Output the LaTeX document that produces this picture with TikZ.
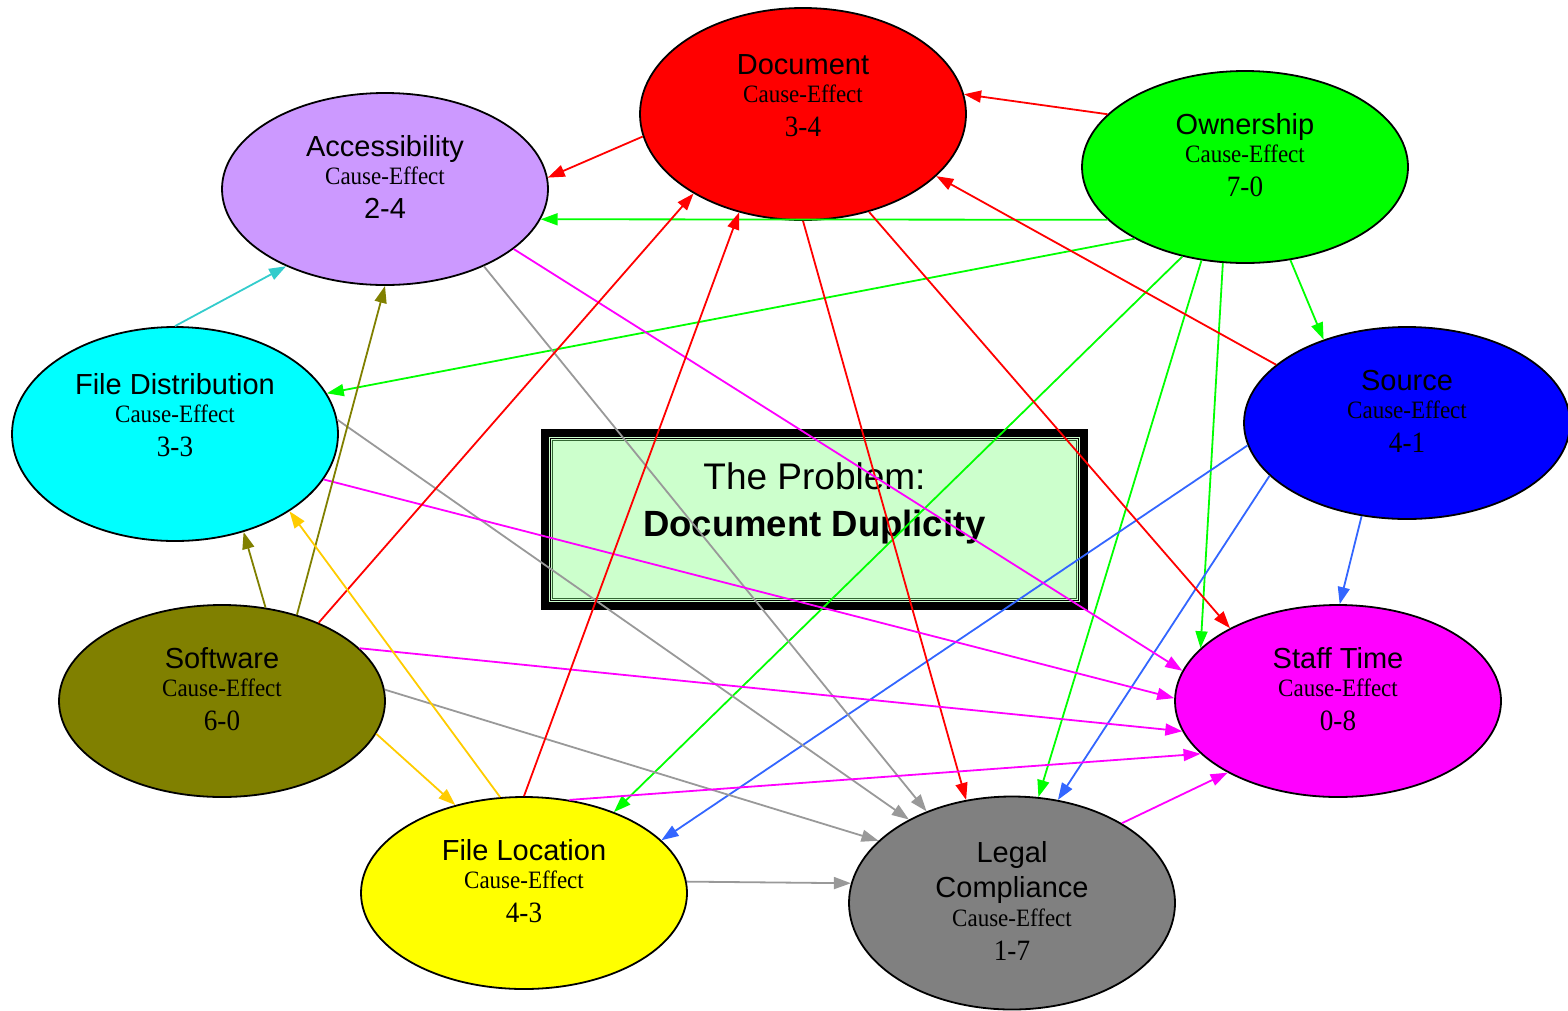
\documentclass[tikz,border=0pt]{standalone}
\usepackage{fontspec}
\setmainfont{Liberation Serif}
\setsansfont{Liberation Sans}
\usepackage{graphicx}
\usetikzlibrary{shapes.geometric,arrows.meta}
\definecolor{docred}{HTML}{FF0000}
\definecolor{accpur}{HTML}{CC99FF}
\definecolor{owngrn}{HTML}{00FF00}
\definecolor{srcblu}{HTML}{0000FF}
\definecolor{fdicya}{HTML}{00FFFF}
\definecolor{stfmag}{HTML}{FF00FF}
\definecolor{swoli}{HTML}{808000}
\definecolor{flocyel}{HTML}{FFFF00}
\definecolor{leggry}{HTML}{808080}
\definecolor{boxgrn}{HTML}{CCFFCC}
\definecolor{boxdk}{HTML}{336633}
\definecolor{eblu}{HTML}{3366FF}
\definecolor{egry}{HTML}{999999}
\definecolor{ecya}{HTML}{33CCCC}
\definecolor{egld}{HTML}{FFCC00}
\newcommand{\ttl}[1]{{\sffamily\fontsize{29}{32}\selectfont #1}}
\newcommand{\cef}{{\rmfamily\fontsize{25}{30}\selectfont\scalebox{0.92}[1]{Cause-Effect}}}
\newcommand{\cnum}[1]{{\rmfamily\fontsize{29.5}{32}\selectfont\scalebox{0.92}[1]{#1}}}
\newcommand{\dpt}[1]{\rule[-#1]{0pt}{#1}}
\begin{document}
\begin{tikzpicture}[x=1pt,y=-1pt,
  ell/.style={ellipse, draw=black, line width=1.8pt, minimum width=326pt,
    minimum height=192pt, inner sep=0pt, align=center,
    font=\fontsize{29}{32}\selectfont},
  e/.style={line width=1.8pt, -{Triangle[length=17pt,width=12pt]}},
  probbox/.style={draw=black, line width=8pt, fill=boxgrn, minimum width=539pt,
    minimum height=173pt, inner sep=0pt, align=center,
    font=\fontsize{37}{44}\selectfont}]
\useasboundingbox (0,0) rectangle (1568,1010);
% central box
\node[probbox] (prob) at (814.5,519.5)
  {\sffamily The Problem:\\[3pt]{\sffamily\bfseries\fontsize{36.5}{40}\selectfont Document Duplicity}\dpt{39pt}};
\draw[line width=1.5pt] ([shift={(9.5pt,-9.5pt)}]prob.north west) rectangle ([shift={(-9.5pt,9.5pt)}]prob.south east);
\draw[line width=1.1pt, boxdk] ([shift={(11.5pt,-11.5pt)}]prob.north west) rectangle ([shift={(-11.5pt,11.5pt)}]prob.south east);
% nodes
\node[ell, fill=docred, minimum height=212pt] (doc) at (803,114)
  {\ttl{Document}\\[-4pt]\cef\\[2pt]\cnum{3-4}\dpt{37.5pt}};
\node[ell, fill=accpur] (acc) at (385,189)
  {\ttl{Accessibility}\\[-4pt]\cef\\[2pt]\ttl{2-4}\dpt{23.5pt}};
\node[ell, fill=owngrn] (own) at (1245,167)
  {\ttl{Ownership}\\[-4pt]\cef\\[2pt]\cnum{7-0}\dpt{23.5pt}};
\node[ell, fill=srcblu] (src) at (1407,423)
  {\ttl{Source}\\[-4pt]\cef\\[2pt]\cnum{4-1}\dpt{23.5pt}};
\node[ell, fill=fdicya, minimum height=214pt] (fdi) at (175,434)
  {\ttl{File Distribution}\\[-4pt]\cef\\[2pt]\cnum{3-3}\dpt{37.5pt}};
\node[ell, fill=stfmag] (stf) at (1338,701)
  {\ttl{Staff Time}\\[-4pt]\cef\\[2pt]\cnum{0-8}\dpt{23.5pt}};
\node[ell, fill=swoli] (sw) at (222,701)
  {\ttl{Software}\\[-4pt]\cef\\[2pt]\cnum{6-0}\dpt{23.5pt}};
\node[ell, fill=flocyel] (floc) at (524,893)
  {\ttl{File Location}\\[-4pt]\cef\\[2pt]\cnum{4-3}\dpt{23.5pt}};
\node[ell, fill=leggry, minimum height=213pt] (leg) at (1012,903)
  {\ttl{Legal}\\[3pt]\ttl{Compliance}\\[-3pt]\cef\\[2pt]\cnum{1-7}\dpt{3.5pt}};
% edges
\draw[e, docred] (own.159) -- (doc.7);
\draw[e, docred] (doc.188) -- (acc.4);
\draw[e, owngrn] (own.201) -- (acc.-11);
\draw[e, owngrn] (own.213) -- (fdi.15);
\draw[e, owngrn] (own.-64) -- (src.135);
\draw[e, owngrn] (own.235) -- (floc.42);
\draw[e, owngrn] (own.245) -- (leg.76);
\draw[e, owngrn] (own.257) -- (stf.159);
\draw[e, docred] (src.156) -- (doc.-25);
\draw[e, eblu] (src.188) -- (floc.21);
\draw[e, eblu] (src.201) -- (leg.66);
\draw[e, eblu] (src.244) -- (stf.89);
\draw[e, docred] (doc.-90) -- (leg.114);
\draw[e, docred] (doc.-56) -- (stf.146);
\draw[e, stfmag] (acc.-25) -- (stf.169);
\draw[e, egry] (acc.-38) -- (leg.133);
\draw[e, ecya] (fdi.90) -- (acc.218);
\draw[e, egry] (fdi.5) -- (leg.141);
\draw[e, stfmag] (fdi.-17) -- (stf.179);
\draw[e, swoli] (sw.65) -- (fdi.-55);
\draw[e, swoli] (sw.49) -- (acc.-90);
\draw[e, docred] (sw.39) -- (doc.216);
\draw[e, stfmag] (sw.21) -- (stf.191);
\draw[e, egry] (sw.4) -- (leg.155);
\draw[e, egld] (sw.-12) -- (floc.128);
\draw[e, egld] (floc.104) -- (fdi.-34);
\draw[e, docred] (floc.90) -- (doc.237);
\draw[e, stfmag] (floc.64) -- (stf.201);
\draw[e, egry] (floc.4) -- (leg.173);
\draw[e, stfmag] (leg.36) -- (stf.213);
\end{tikzpicture}
\end{document}
